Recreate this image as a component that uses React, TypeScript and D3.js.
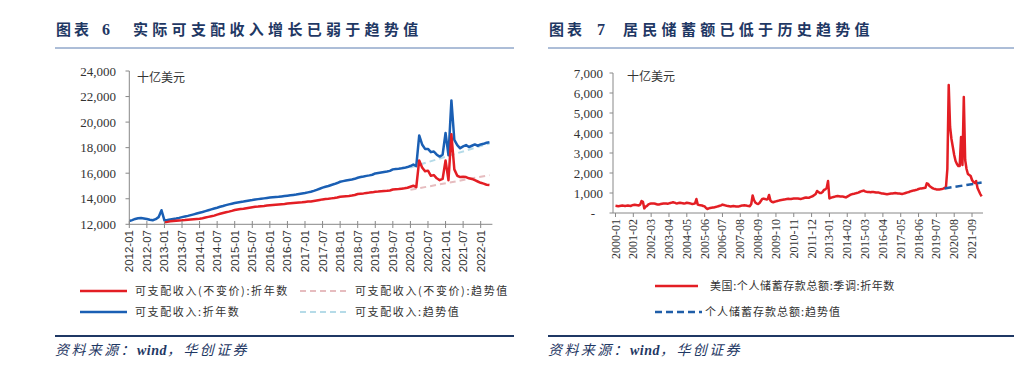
import * as d3 from 'd3'

// 左图：可支配收入（月度，十亿美元）
const nominalStart = '2012-01'
const incomeNominal = [
  12260, 12330, 12420, 12480, 12500, 12460, 12420, 12360, 12320, 12400, 12560, 13100,
  12300, 12330, 12370, 12410, 12450, 12500, 12560, 12610, 12660, 12720, 12780, 12840,
  12900, 12960, 13030, 13100, 13170, 13240, 13300, 13370, 13430, 13500, 13560, 13610,
  13660, 13700, 13740, 13780, 13830, 13870, 13900, 13940, 13970, 14000, 14030, 14060,
  14090, 14110, 14130, 14150, 14180, 14210, 14240, 14270, 14300, 14330, 14370, 14410,
  14450, 14500, 14550, 14620, 14700, 14780, 14870, 14940, 15000, 15080, 15150, 15230,
  15330, 15380, 15430, 15470, 15510, 15560, 15640, 15700, 15740, 15790, 15830, 15880,
  15980, 16020, 16060, 16100, 16130, 16180, 16300, 16330, 16350, 16380, 16420, 16480,
  16560, 16680, 16550, 18950, 18250, 17900, 17900, 17650, 17700, 17450, 17300, 17450,
  19150, 17400, 21700, 18600, 18200, 17950, 18100, 18200, 18050, 18150, 18250, 18150,
  18250, 18300, 18380, 18420
]
const realStart = '2013-01'
const incomeReal = [
  12160, 12190, 12230, 12260, 12280, 12300, 12310, 12330, 12360, 12380, 12400, 12420,
  12440, 12480, 12530, 12580, 12630, 12680, 12760, 12820, 12880, 12940, 12990, 13050,
  13120, 13160, 13190, 13220, 13260, 13300, 13340, 13370, 13390, 13420, 13440, 13470,
  13490, 13510, 13530, 13550, 13570, 13590, 13620, 13640, 13660, 13680, 13700, 13720,
  13750, 13780, 13790, 13830, 13870, 13910, 13950, 13980, 14000, 14030, 14060, 14100,
  14160, 14180, 14200, 14220, 14250, 14290, 14370, 14400, 14420, 14450, 14480, 14500,
  14550, 14560, 14580, 14600, 14620, 14650, 14720, 14740, 14760, 14790, 14820, 14860,
  14940, 15020, 14900, 17000, 16450, 16150, 16200, 15800, 15850, 15600, 15450, 15550,
  17000, 15450, 19050, 16300, 15800, 15700, 15720, 15700, 15600, 15550, 15450, 15350,
  15250, 15180, 15100, 15070
]
const nominalTrend = [
  { date: '2020-01', value: 16450 },
  { date: '2022-04', value: 18330 }
]
const realTrend = [
  { date: '2020-01', value: 14700 },
  { date: '2022-04', value: 15850 }
]
const leftYTicks = [12000, 14000, 16000, 18000, 20000, 22000, 24000]
const leftXTicks = [
  '2012-01', '2012-07', '2013-01', '2013-07', '2014-01', '2014-07', '2015-01',
  '2015-07', '2016-01', '2016-07', '2017-01', '2017-07', '2018-01', '2018-07',
  '2019-01', '2019-07', '2020-01', '2020-07', '2021-01', '2021-07', '2022-01'
]

// 右图：个人储蓄存款总额（月度，十亿美元）
const savingStart = '2000-01'
const saving = [
  360, 350, 340, 350, 360, 370, 360, 350, 360, 370, 360, 350,
  380, 400, 410, 400, 390, 380, 420, 600, 560, 230, 320, 360,
  430, 460, 470, 480, 470, 460, 440, 420, 430, 450, 460, 470,
  480, 470, 460, 480, 500, 520, 540, 520, 490, 480, 500, 510,
  500, 490, 480, 490, 510, 500, 490, 470, 450, 460, 480, 700,
  420, 400, 390, 380, 350, 330, 250, 200, 230, 250, 260, 270,
  280, 300, 320, 340, 360, 380, 420, 400, 380, 360, 350, 340,
  330, 340, 350, 340, 330, 320, 330, 350, 370, 380, 390, 380,
  360, 350, 340, 450, 880, 650, 520, 470, 450, 500, 600, 700,
  720, 700, 680, 690, 900, 620, 560, 540, 560, 580, 600, 620,
  640, 650, 660, 670, 690, 700, 710, 700, 700, 710, 720, 730,
  730, 720, 710, 700, 720, 740, 760, 770, 760, 760, 790, 820,
  850, 900, 950, 1100, 1050, 1000, 1000, 1050, 1150, 1180, 1250, 1600,
  730, 760, 780, 800, 820, 840, 850, 840, 830, 830, 820, 800,
  780, 820, 860, 900, 930, 950, 960, 980, 1000, 1020, 1050, 1080,
  1100, 1120, 1080, 1060, 1050, 1050, 1040, 1050, 1050, 1040, 1030, 1020,
  1020, 1000, 980, 970, 960, 950, 940, 950, 960, 970, 980, 990,
  1000, 990, 980, 970, 960, 950, 970, 990, 1010, 1030, 1050, 1080,
  1100, 1120, 1130, 1150, 1170, 1200, 1220, 1230, 1240, 1250, 1260, 1480,
  1450, 1350, 1300, 1250, 1220, 1200, 1180, 1170, 1170, 1190, 1200, 1220,
  1250, 1300, 2200, 6400, 4300, 3700, 3300, 2900, 2600, 2450, 2350, 2350,
  3800, 2400, 5800, 2650, 2200, 1950, 1900, 1850, 1650, 1550, 1500, 1600,
  1250, 1100, 950, 830
]
const savingTrend = [
  { date: '2020-01', value: 1230 },
  { date: '2022-04', value: 1520 }
]
const rightYTicks = [0, 1000, 2000, 3000, 4000, 5000, 6000, 7000]
const rightXTicks = [
  '2000-01', '2001-02', '2002-03', '2003-04', '2004-05', '2005-06', '2006-07',
  '2007-08', '2008-09', '2009-10', '2010-11', '2011-12', '2013-01', '2014-02',
  '2015-03', '2016-04', '2017-05', '2018-06', '2019-07', '2020-08', '2021-09'
]

const monthsFrom = (base: string, d: string) => {
  const [by, bm] = base.split('-').map(Number)
  const [y, m] = d.split('-').map(Number)
  return (y - by) * 12 + (m - bm)
}

const NAVY = '#1f3864'
const CJK = '"Noto Sans CJK SC", sans-serif'
const SERIF = '"Liberation Serif", "Times New Roman", serif'
const SANS = '"Liberation Sans", Arial, sans-serif'

type Pt = { i: number; v: number }

const LegendText = ({ x, y, children, spacing = 1.6 }: { x: number; y: number; children: string; spacing?: number }) => (
  <text x={x} y={y} dy="0.35em" fontFamily={CJK} fontSize={11} fill="#333" letterSpacing={spacing}>
    {children}
  </text>
)

const LeftChart = () => {
  const x = d3.scaleLinear().domain([0, 124]).range([129.3, 492.4])
  const y = d3.scaleLinear().domain([12000, 24000]).range([224.3, 71])
  const line = d3
    .line<Pt>()
    .x((d) => x(d.i))
    .y((d) => y(d.v))
  const nominal = incomeNominal.map((v, k) => ({ i: k, v }))
  const off = monthsFrom(nominalStart, realStart)
  const real = incomeReal.map((v, k) => ({ i: k + off, v }))
  const tr = (arr: { date: string; value: number }[]) =>
    arr.map((d) => ({ i: monthsFrom(nominalStart, d.date), v: d.value }))

  return (
    <g>
      <path d={line(tr(realTrend)) || ''} fill="none" stroke="#e6bcbf" strokeWidth={2} strokeDasharray="6,4" />
      <path d={line(tr(nominalTrend)) || ''} fill="none" stroke="#b5dbe8" strokeWidth={2} strokeDasharray="6,4" />
      <path d={line(nominal) || ''} fill="none" stroke="#1a5fb4" strokeWidth={2.5} strokeLinejoin="round" />
      <path d={line(real) || ''} fill="none" stroke="#e31e24" strokeWidth={2.5} strokeLinejoin="round" />
      {/* y axis */}
      <line x1={129.3} x2={129.3} y1={71} y2={224.3} stroke="#888" />
      {leftYTicks.map((t) => (
        <g key={t}>
          <line x1={125.5} x2={129.3} y1={y(t)} y2={y(t)} stroke="#888" />
          <text x={116} y={y(t)} dy="0.35em" textAnchor="end" fontFamily={SERIF} fontSize={13} fill="#333">
            {d3.format(',')(t)}
          </text>
        </g>
      ))}
      {/* x axis */}
      <line x1={129.3} x2={492.4} y1={224.3} y2={224.3} stroke="#888" />
      {leftXTicks.map((t) => {
        const xx = x(monthsFrom(nominalStart, t))
        return (
          <g key={t}>
            <line x1={xx} x2={xx} y1={221} y2={228} stroke="#888" />
            <text
              transform={`translate(${xx + 4},${230}) rotate(-90)`}
              textAnchor="end"
              fontFamily={SANS}
              fontSize={11.5}
              fill="#333"
            >
              {t}
            </text>
          </g>
        )
      })}
      <text x={137} y={82} fontFamily={CJK} fontSize={12} fill="#333">十亿美元</text>
      {/* legend */}
      <line x1={80} x2={127} y1={291} y2={291} stroke="#e31e24" strokeWidth={2.5} />
      <LegendText x={135} y={291}>可支配收入(不变价):折年数</LegendText>
      <line x1={300} x2={347} y1={291} y2={291} stroke="#e6bcbf" strokeWidth={2} strokeDasharray="6,4" />
      <LegendText x={355} y={291}>可支配收入(不变价):趋势值</LegendText>
      <line x1={80} x2={127} y1={312} y2={312} stroke="#1a5fb4" strokeWidth={2.5} />
      <LegendText x={135} y={312}>可支配收入:折年数</LegendText>
      <line x1={300} x2={347} y1={312} y2={312} stroke="#b5dbe8" strokeWidth={2} strokeDasharray="6,4" />
      <LegendText x={355} y={312}>可支配收入:趋势值</LegendText>
    </g>
  )
}

const RightChart = () => {
  const x = d3.scaleLinear().domain([0, 268]).range([615.5, 983])
  const y = d3.scaleLinear().domain([0, 7000]).range([213, 73])
  const line = d3
    .line<Pt>()
    .x((d) => x(d.i))
    .y((d) => y(d.v))
  const pts = saving.map((v, k) => ({ i: k, v }))
  const trend = savingTrend.map((d) => ({ i: monthsFrom(savingStart, d.date), v: d.value }))

  return (
    <g>
      <path d={line(pts) || ''} fill="none" stroke="#e31e24" strokeWidth={2.5} strokeLinejoin="round" />
      <path d={line(trend) || ''} fill="none" stroke="#1f5ea8" strokeWidth={2.5} strokeDasharray="7,4" />
      <line x1={613} x2={613} y1={73} y2={213} stroke="#888" />
      {rightYTicks.map((t) => (
        <g key={t}>
          <line x1={609.5} x2={613} y1={y(t)} y2={y(t)} stroke="#888" />
          <text
            x={t === 0 ? 595 : 603}
            y={y(t)}
            dy="0.35em"
            textAnchor="end"
            fontFamily={SERIF}
            fontSize={13}
            fill="#333"
          >
            {t === 0 ? '-' : d3.format(',')(t)}
          </text>
        </g>
      ))}
      <line x1={613} x2={983} y1={213} y2={213} stroke="#888" />
      {rightXTicks.map((t) => {
        const xx = x(monthsFrom(savingStart, t))
        return (
          <g key={t}>
            <line x1={xx} x2={xx} y1={213} y2={217} stroke="#888" />
            <text
              transform={`translate(${xx + 4},${219}) rotate(-90)`}
              textAnchor="end"
              fontFamily={SERIF}
              fontSize={12}
              fill="#333"
            >
              {t}
            </text>
          </g>
        )
      })}
      <text x={627} y={81} fontFamily={CJK} fontSize={12} fill="#333">十亿美元</text>
      <line x1={655} x2={698} y1={286} y2={286} stroke="#e31e24" strokeWidth={2.5} />
      <LegendText x={710} y={286} spacing={0.6}>美国:个人储蓄存款总额:季调:折年数</LegendText>
      <line x1={655} x2={702} y1={312} y2={312} stroke="#1f5ea8" strokeWidth={2.5} strokeDasharray="7,4" />
      <LegendText x={705} y={312} spacing={1}>个人储蓄存款总额:趋势值</LegendText>
    </g>
  )
}

const Frame = ({ x0, x1, num, numX, title, titleX }: { x0: number; x1: number; num: string; numX: number; title: string; titleX: number }) => (
  <g>
    <text x={x0 + 1} y={35} fontFamily={CJK} fontWeight={700} fontSize={15} fill={NAVY} letterSpacing={3}>图表</text>
    <text x={numX} y={35} fontFamily={SERIF} fontWeight={700} fontSize={16} fill={NAVY}>{num}</text>
    <text x={titleX} y={35} fontFamily={CJK} fontWeight={700} fontSize={15} fill={NAVY} letterSpacing={4.3}>{title}</text>
    <line x1={x0} x2={x1} y1={48} y2={48} stroke="#5a7db0" strokeWidth={1} />
    <line x1={x0} x2={x1} y1={336} y2={336} stroke={NAVY} strokeWidth={2} />
    <text x={x0} y={355} fontFamily={CJK} fontStyle="italic" fontSize={14} fill={NAVY} letterSpacing={2.4}>
      资料来源：<tspan fontFamily={SERIF} fontWeight={700} letterSpacing={0.5}>wind</tspan>，华创证券
    </text>
  </g>
)

export default function App() {
  return (
    <svg
      width={1024}
      height={372}
      style={{ position: 'absolute', left: 0, top: 0, background: '#fff' }}
    >
      <rect width={1024} height={372} fill="#fff" />
      <Frame x0={55} x1={514} num="6" numX={102} title="实际可支配收入增长已弱于趋势值" titleX={133} />
      <Frame x0={548} x1={1014} num="7" numX={597} title="居民储蓄额已低于历史趋势值" titleX={623} />
      <LeftChart />
      <RightChart />
    </svg>
  )
}
